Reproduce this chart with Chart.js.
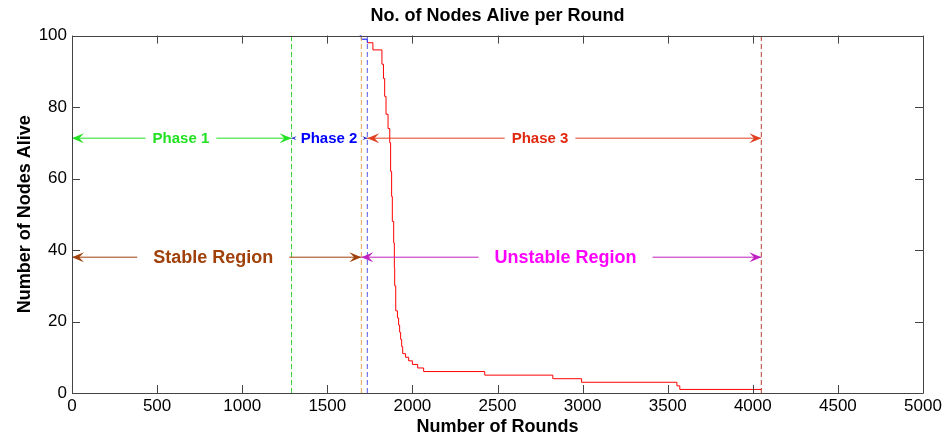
<!DOCTYPE html>
<html>
<head>
<meta charset="utf-8">
<script src="https://cdn.jsdelivr.net/npm/chart.js@4.4.1/dist/chart.umd.min.js"></script>
<style>
  html, body { margin: 0; padding: 0; background: #fff; }
  #wrap { width: 947px; height: 439px; }
</style>
</head>
<body>
<div id="wrap"><canvas id="nodesChart"></canvas></div>
<script>
// Curve: the round where the count changes, and the new count
const phase2Rounds = [1690, 1700, 1735];
const phase2Alive = [100, 99, 98];
const phase3Rounds = [1735, 1768, 1821, 1830, 1837, 1845, 1857, 1867, 1872, 1878, 1882, 1890, 1894, 1896,
  1902, 1912, 1919, 1925, 1931, 1937, 1943, 1960, 1978, 2000, 2031, 2066, 2425, 2825, 2994, 3554, 3571, 4052];
const phase3Alive = [98, 96, 92, 88, 83, 78, 74, 70, 62, 55, 48, 42, 35, 30,
  23, 21, 19, 17, 15, 13, 11, 10, 9, 8, 7, 6, 5, 4, 3, 2, 1, 1];

// Dashed boundaries (rounds)
const markerRounds = [1290, 1700, 1735, 4050];

// Arrow annotations
const phaseLabels = ["Phase 1", "Phase 2", "Phase 3"];
const phaseFrom = [0, 1290, 1735];
const phaseTo = [1290, 1735, 4050];
const phaseLabelAt = [640, 1510, 2750];
const phaseLevel = 71.3;

const regionLabels = ["Stable Region", "Unstable Region"];
const regionFrom = [0, 1700];
const regionTo = [1700, 4050];
const regionLabelAt = [830, 2900];
const regionLevel = 38;

// Tick labels
const roundTicks = [0, 500, 1000, 1500, 2000, 2500, 3000, 3500, 4000, 4500, 5000];
const aliveTicks = [0, 20, 40, 60, 80, 100];

const FONT = "'Liberation Sans', Arial, sans-serif";

function toPoints(xs, ys) {
    return xs.map((x, i) => ({ x: x, y: ys[i] }));
}

const markerColors = ["#33cc33", "#e8a050", "#5555e8", "#b84030"];
const markerSets = markerRounds.map((r, i) => ({
    data: [{ x: r, y: 0 }, { x: r, y: 100 }],
    borderColor: markerColors[i],
    borderWidth: 1,
    borderDash: [5, 3],
    pointRadius: 0
}));

function arrowHead(ctx, x, y, dir, size, color) {
    ctx.beginPath();
    ctx.moveTo(x, y);
    ctx.lineTo(x - dir * size, y - size * 0.42);
    ctx.lineTo(x - dir * size * 0.6, y);
    ctx.lineTo(x - dir * size, y + size * 0.42);
    ctx.closePath();
    ctx.fillStyle = color;
    ctx.fill();
}

function doubleArrow(ctx, x1, x2, y, tx, label, font, lineColor, textColor, head, gap) {
    ctx.font = font;
    const w = ctx.measureText(label).width;
    const tl = tx - w / 2, tr = tx + w / 2;
    ctx.strokeStyle = lineColor;
    ctx.lineWidth = 1;
    ctx.beginPath();
    if (tl - gap > x1) { ctx.moveTo(x1, y); ctx.lineTo(tl - gap, y); }
    if (tr + gap < x2) { ctx.moveTo(tr + gap, y); ctx.lineTo(x2, y); }
    ctx.stroke();
    arrowHead(ctx, x1, y, -1, head, lineColor);
    arrowHead(ctx, x2, y, 1, head, lineColor);
    ctx.fillStyle = textColor;
    ctx.textAlign = "center";
    ctx.textBaseline = "middle";
    ctx.fillText(label, tx, y + 1);
}

const boxAndNotes = {
    id: "boxAndNotes",
    afterDatasetsDraw(chart) {
        const ctx = chart.ctx;
        const xs = chart.scales.x, ys = chart.scales.y;
        const a = chart.chartArea;
        ctx.save();

        // phase arrows
        const phaseLine = ["#22e022", "#3030c8", "#e04020"];
        const phaseText = ["#22e022", "#0000ff", "#e02810"];
        const phaseHead = [12, 5, 12];
        const py = ys.getPixelForValue(phaseLevel);
        phaseLabels.forEach((lab, i) => {
            doubleArrow(ctx, xs.getPixelForValue(phaseFrom[i]), xs.getPixelForValue(phaseTo[i]), py,
                xs.getPixelForValue(phaseLabelAt[i]), lab, "bold 15px " + FONT,
                phaseLine[i], phaseText[i], phaseHead[i], 7);
        });

        // region arrows
        const regionLine = ["#a0400a", "#c020c0"];
        const regionText = ["#a0400a", "#ff00ff"];
        const ry = ys.getPixelForValue(regionLevel);
        regionLabels.forEach((lab, i) => {
            doubleArrow(ctx, xs.getPixelForValue(regionFrom[i]), xs.getPixelForValue(regionTo[i]), ry,
                xs.getPixelForValue(regionLabelAt[i]), lab, "bold 18px " + FONT,
                regionLine[i], regionText[i], 12, 16);
        });

        // axes box with inward ticks
        ctx.strokeStyle = "#444";
        ctx.lineWidth = 1;
        ctx.beginPath();
        ctx.rect(Math.round(a.left) + 0.5, Math.round(a.top) + 0.5,
            Math.round(a.right - a.left), Math.round(a.bottom - a.top));
        roundTicks.forEach(v => {
            const px = Math.round(xs.getPixelForValue(v)) + 0.5;
            ctx.moveTo(px, a.bottom); ctx.lineTo(px, a.bottom - 8);
            ctx.moveTo(px, a.top); ctx.lineTo(px, a.top + 8);
        });
        aliveTicks.forEach(v => {
            const py2 = Math.round(ys.getPixelForValue(v)) + 0.5;
            ctx.moveTo(a.left, py2); ctx.lineTo(a.left + 8, py2);
            ctx.moveTo(a.right, py2); ctx.lineTo(a.right - 8, py2);
        });
        ctx.stroke();
        ctx.restore();
    }
};

const ctx = document.getElementById("nodesChart").getContext("2d");
const nodesChart = new Chart(ctx, {
    type: "line",
    data: {
        datasets: markerSets.concat([
            {
                data: toPoints(phase2Rounds, phase2Alive),
                borderColor: "#0000ff",
                borderWidth: 1,
                stepped: true,
                pointRadius: 0
            },
            {
                data: toPoints(phase3Rounds, phase3Alive),
                borderColor: "#ff0000",
                borderWidth: 1,
                stepped: true,
                pointRadius: 0
            }
        ])
    },
    options: {
        responsive: true,
        maintainAspectRatio: false,
        animation: false,
        layout: { padding: { left: 0, right: 24, top: 0, bottom: 0 } },
        plugins: {
            legend: { display: false },
            tooltip: { enabled: false },
            title: {
                display: true,
                fullSize: false,
                text: "No. of Nodes Alive per Round",
                color: "#000",
                font: { family: FONT, size: 18, weight: "bold" },
                padding: { top: 5, bottom: 9 }
            }
        },
        scales: {
            x: {
                type: "linear",
                min: 0,
                max: 5000,
                grid: { display: false, drawTicks: false },
                border: { display: false },
                afterBuildTicks: s => { s.ticks = roundTicks.map(v => ({ value: v })); },
                afterFit: s => { s.height = 46; },
                ticks: {
                    color: "#000",
                    padding: 3,
                    maxRotation: 0,
                    autoSkip: false,
                    font: { family: FONT, size: 17 },
                    callback: v => String(v)
                },
                title: {
                    display: true,
                    text: "Number of Rounds",
                    color: "#000",
                    font: { family: FONT, size: 18, weight: "bold" },
                    padding: { top: 1, bottom: 1 }
                }
            },
            y: {
                min: 0,
                max: 100,
                grid: { display: false, drawTicks: false },
                border: { display: false },
                afterBuildTicks: s => { s.ticks = aliveTicks.map(v => ({ value: v })); },
                afterFit: s => { s.width = 72; },
                ticks: {
                    color: "#000",
                    padding: 5,
                    font: { family: FONT, size: 17 },
                    callback: v => String(v)
                },
                title: {
                    display: true,
                    text: "Number of Nodes Alive",
                    color: "#000",
                    font: { family: FONT, size: 18, weight: "bold" },
                    padding: { top: 14, bottom: 14 }
                }
            }
        }
    },
    plugins: [boxAndNotes]
});
</script>
</body>
</html>
